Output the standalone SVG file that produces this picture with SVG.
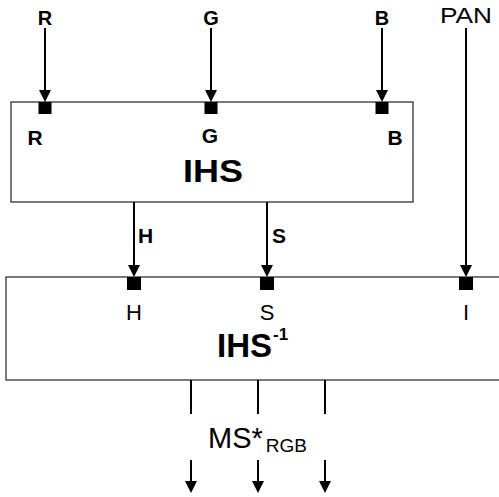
<svg xmlns="http://www.w3.org/2000/svg" width="499" height="497" viewBox="0 0 499 497">
<defs>
<marker id="ah" markerUnits="userSpaceOnUse" markerWidth="12" markerHeight="12" refX="9" refY="6" orient="auto">
<path d="M0,0 L12,6 L0,12 z" fill="#000"/>
</marker>
<style>
.box{fill:#fff;stroke:#333;stroke-width:1.3}
.ln{stroke:#000;stroke-width:2;fill:none}
.ar{stroke:#000;stroke-width:2;fill:none;marker-end:url(#ah)}
.port{fill:#000}
.b{font-family:"Liberation Sans",Arial,sans-serif;font-weight:bold;fill:#000}
.n{font-family:"Liberation Sans",Arial,sans-serif;fill:#000}
</style>
</defs>
<rect width="499" height="497" fill="#fff"/>

<g id="ihs">
<rect class="box" x="11" y="102" width="402" height="100"/>
<rect class="port" x="38.5" y="102" width="13" height="12"/>
<rect class="port" x="204.5" y="102" width="13" height="12"/>
<rect class="port" x="375.5" y="102" width="13" height="12"/>
<text class="b" x="35" y="145" font-size="21" text-anchor="middle">R</text>
<text class="b" x="210" y="143" font-size="21" text-anchor="middle">G</text>
<text class="b" x="395" y="145" font-size="21" text-anchor="middle">B</text>
<text class="b" x="213" y="182" font-size="31" text-anchor="middle" textLength="60" lengthAdjust="spacingAndGlyphs">IHS</text>
</g>

<g id="ihs-inv">
<rect class="box" x="6" y="277" width="500" height="103"/>
<rect class="port" x="127" y="277" width="14" height="13"/>
<rect class="port" x="260" y="277" width="14" height="13"/>
<rect class="port" x="459" y="277" width="14" height="13"/>
<text class="n" x="134" y="320" font-size="22" text-anchor="middle">H</text>
<text class="n" x="267" y="320" font-size="22" text-anchor="middle">S</text>
<text class="n" x="466" y="320" font-size="22" text-anchor="middle">I</text>
<text class="b" x="217" y="357" font-size="33" textLength="55" lengthAdjust="spacingAndGlyphs">IHS</text>
<text class="b" x="273" y="340" font-size="17">-1</text>
</g>

<g id="inputs">
<text class="b" x="45" y="25" font-size="20" text-anchor="middle">R</text>
<text class="b" x="211" y="25" font-size="20" text-anchor="middle">G</text>
<text class="b" x="382" y="25" font-size="20" text-anchor="middle">B</text>
<text class="n" x="466" y="23" font-size="22" text-anchor="middle" textLength="52" lengthAdjust="spacingAndGlyphs">PAN</text>
</g>

<g id="output">
<text class="n" x="208" y="448" font-size="29">MS*<tspan font-size="19" dx="3" dy="4">RGB</tspan></text>
</g>

<g id="connectors">
<line class="ar" x1="45" y1="28" x2="45" y2="99"/>
<line class="ar" x1="211" y1="28" x2="211" y2="99"/>
<line class="ar" x1="382" y1="28" x2="382" y2="99"/>
<line class="ar" x1="466" y1="28" x2="466" y2="274"/>
<line class="ar" x1="134" y1="202" x2="134" y2="274"/>
<line class="ar" x1="267" y1="202" x2="267" y2="274"/>
<text class="b" x="138" y="243" font-size="21">H</text>
<text class="b" x="272" y="243" font-size="21">S</text>
<line class="ln" x1="191" y1="380" x2="191" y2="414"/>
<line class="ln" x1="258" y1="380" x2="258" y2="414"/>
<line class="ln" x1="325" y1="380" x2="325" y2="414"/>
<line class="ar" x1="191" y1="460" x2="191" y2="490"/>
<line class="ar" x1="258" y1="460" x2="258" y2="490"/>
<line class="ar" x1="325" y1="460" x2="325" y2="490"/>
</g>
</svg>
